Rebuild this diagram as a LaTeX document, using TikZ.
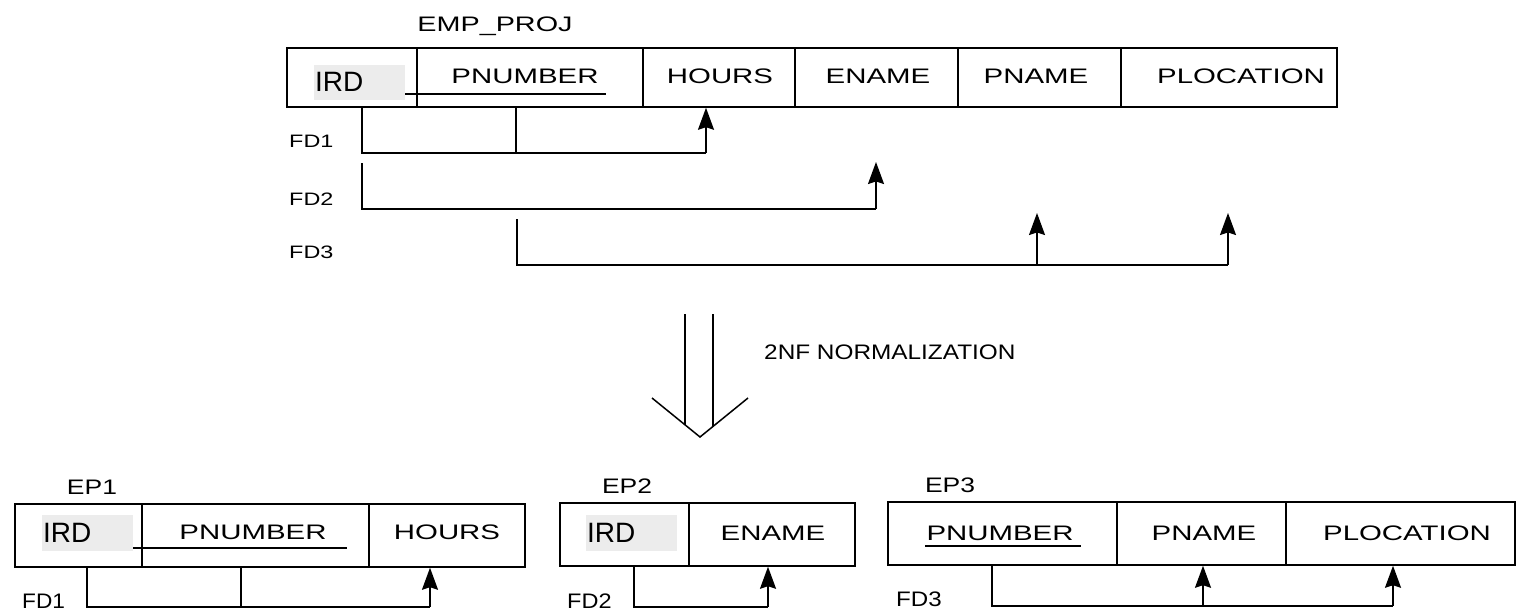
\documentclass[tikz,border=0pt]{standalone}
\usepackage{fontspec}
\setmainfont{Liberation Sans}
\usetikzlibrary{arrows.meta}
\definecolor{keyshade}{RGB}{236,236,236}
% horizontally widened text
\newcommand{\wtext}[2][1.4]{\scalebox{#1}[1]{#2}}
% \relcell{name}{x1}{x2}{y1}{y2}: an empty table cell spanning the given box
\newcommand{\relcell}[5]{%
  \node[cell, minimum width={#3-#2}, minimum height={#5-#4}] (#1)
    at ({(#2+#3)/2},{(#4+#5)/2}) {};}

\begin{document}
\begin{tikzpicture}[x=1pt,y=-1pt,
  cell/.style={draw, line width=1.5pt, inner sep=0pt},
  keybox/.style={fill=keyshade, inner sep=0pt},
  lbl/.style={inner sep=0pt, anchor=base, font=\fontsize{21}{21}\selectfont},
  lblw/.style={lbl, anchor=base west},
  keytxt/.style={inner sep=0pt, anchor=base west, font=\fontsize{28}{28}\selectfont},
  fdlbl/.style={inner sep=0pt, anchor=base west, font=\fontsize{18}{18}\selectfont},
  fdlow/.style={inner sep=0pt, anchor=base west, font=\fontsize{21}{21}\selectfont},
  fd/.style={line width=1.5pt},
  fdarrow/.style={fd, -{Stealth[length=22pt,width=16pt,inset=2.5pt]}},
  uline/.style={line width=1.2pt}]
\useasboundingbox (0,0) rectangle (1518,610);

% ---------------- EMP_PROJ ----------------
\node[lbl] (empproj) at (495,32) {\wtext[1.37]{EMP\_PROJ}};
\relcell{tIRD}{287}{417}{48}{107}
\relcell{tPNUM}{417}{643}{48}{107}
\relcell{tHOURS}{643}{795}{48}{107}
\relcell{tENAME}{795}{958}{48}{107}
\relcell{tPNAME}{958}{1121}{48}{107}
\relcell{tPLOC}{1121}{1337}{48}{107}
\node[keybox, minimum width=91, minimum height=35] (tIRDbg) at (359.5,82.5) {};
\node[keytxt] (tIRDtxt) at (315,92) {IRD};
\draw[uline] (405,94) -- (606,94);
\node[lbl] (tPNUMtxt) at (525,83) {\wtext{PNUMBER}};
\node[lbl] (tHOURStxt) at (720,83) {\wtext{HOURS}};
\node[lbl] (tENAMEtxt) at (878,83) {\wtext{ENAME}};
\node[lbl] (tPNAMEtxt) at (1036,83) {\wtext{PNAME}};
\node[lbl] (tPLOCtxt) at (1241,83) {\wtext{PLOCATION}};

% functional dependencies
\node[fdlbl] (tFD1) at (289,147) {\wtext[1.3]{FD1}};
\node[fdlbl] (tFD2) at (289,205) {\wtext[1.3]{FD2}};
\node[fdlbl] (tFD3) at (289,258) {\wtext[1.3]{FD3}};

\coordinate (f1a) at (362,153);
\coordinate (f1b) at (516,153);
\coordinate (f1c) at (706,153);
\draw[fd] (tIRD.south -| f1a) -- (f1a) -- (f1c);
\draw[fd] (tPNUM.south -| f1b) -- (f1b);
\draw[fdarrow] (f1c) -- (tHOURS.south -| f1c);

\coordinate (f2s) at (362,163);
\coordinate (f2a) at (362,209);
\coordinate (f2c) at (876,209);
\coordinate (f2t) at (876,162);
\draw[fd] (f2s) -- (f2a) -- (f2c);
\draw[fdarrow] (f2c) -- (f2t);

\coordinate (f3s) at (517,219);
\coordinate (f3a) at (517,265);
\coordinate (f3b) at (1037,265);
\coordinate (f3c) at (1228,265);
\coordinate (f3bt) at (1037,213);
\coordinate (f3ct) at (1228,213);
\draw[fd] (f3s) -- (f3a) -- (f3c);
\draw[fdarrow] (f3b) -- (f3bt);
\draw[fdarrow] (f3c) -- (f3ct);

% ---------------- normalization arrow ----------------
\coordinate (vl) at (652,398);
\coordinate (vt) at (700,437);
\coordinate (vr) at (748,398);
\draw[fd, line join=miter] (vl) -- (vt) -- (vr);
\draw[fd] (685,314) -- (685,424.8);
\draw[fd] (713,314) -- (713,426.4);
\node[lblw] (norm) at (764,359) {\wtext[1.16]{2NF NORMALIZATION}};

% ---------------- EP1 ----------------
\node[lbl] (ep1) at (92,494) {\wtext[1.26]{EP1}};
\relcell{aIRD}{15}{142}{504}{567}
\relcell{aPNUM}{142}{369}{504}{567}
\relcell{aHOURS}{369}{525}{504}{567}
\node[keybox, minimum width=91, minimum height=36] (aIRDbg) at (87.5,533) {};
\node[keytxt] (aIRDtxt) at (43,542) {IRD};
\draw[uline] (133,548) -- (347,548);
\node[lbl] (aPNUMtxt) at (253,539) {\wtext{PNUMBER}};
\node[lbl] (aHOURStxt) at (447,539) {\wtext{HOURS}};
\node[fdlow] (aFD1) at (22,608) {\wtext[1.08]{FD1}};
\coordinate (g1a) at (87,607);
\coordinate (g1b) at (241,607);
\coordinate (g1c) at (430,607);
\draw[fd] (aIRD.south -| g1a) -- (g1a) -- (g1c);
\draw[fd] (aPNUM.south -| g1b) -- (g1b);
\draw[fdarrow] (g1c) -- (aHOURS.south -| g1c);

% ---------------- EP2 ----------------
\node[lbl] (ep2) at (627,493) {\wtext[1.26]{EP2}};
\relcell{bIRD}{560}{689}{503}{566}
\relcell{bENAME}{689}{855}{503}{566}
\node[keybox, minimum width=91, minimum height=36] (bIRDbg) at (631.5,533) {};
\node[keytxt] (bIRDtxt) at (587,542) {IRD};
\node[lbl] (bENAMEtxt) at (773,540) {\wtext{ENAME}};
\node[fdlow] (bFD2) at (567,608) {\wtext[1.12]{FD2}};
\coordinate (g2a) at (634,607);
\coordinate (g2c) at (768,607);
\draw[fd] (bIRD.south -| g2a) -- (g2a) -- (g2c);
\draw[fdarrow] (g2c) -- (bENAME.south -| g2c);

% ---------------- EP3 ----------------
\node[lbl] (ep3) at (950,492) {\wtext[1.26]{EP3}};
\relcell{cPNUM}{888}{1117}{502}{565}
\relcell{cPNAME}{1117}{1286}{502}{565}
\relcell{cPLOC}{1286}{1515}{502}{565}
\draw[uline] (925,546) -- (1081,546);
\node[lbl] (cPNUMtxt) at (1000,540) {\wtext{PNUMBER}};
\node[lbl] (cPNAMEtxt) at (1204,540) {\wtext{PNAME}};
\node[lbl] (cPLOCtxt) at (1407,540) {\wtext{PLOCATION}};
\node[fdlow] (cFD3) at (896,606) {\wtext[1.15]{FD3}};
\coordinate (g3a) at (992,606);
\coordinate (g3b) at (1203,606);
\coordinate (g3c) at (1393,606);
\draw[fd] (cPNUM.south -| g3a) -- (g3a) -- (g3c);
\draw[fdarrow] (g3b) -- (cPNAME.south -| g3b);
\draw[fdarrow] (g3c) -- (cPLOC.south -| g3c);
\end{tikzpicture}
\end{document}
